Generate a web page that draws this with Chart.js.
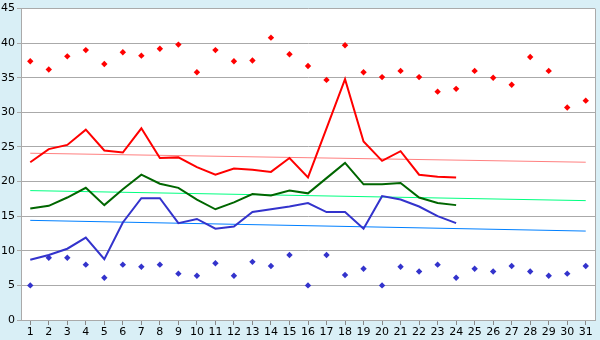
<!DOCTYPE html>
<html>
<head>
<meta charset="utf-8">
<script src="https://cdn.jsdelivr.net/npm/chart.js@4/dist/chart.umd.min.js"></script>
<style>
  html, body { margin: 0; padding: 0; background: #d9eff6; }
  #wrap { width: 600px; height: 340px; position: relative; }
</style>
</head>
<body>
<div id="wrap"><canvas id="c" width="600" height="340"></canvas></div>
<script>
// Days of the month
const days = Array.from({ length: 31 }, (_, i) => String(i + 1));

// Daily highs and lows (markers)
const highs = [37.4, 36.2, 38.1, 39.0, 37.0, 38.7, 38.2, 39.2, 39.8, 35.8,
               39.0, 37.4, 37.5, 40.8, 38.4, 36.7, 34.7, 39.7, 35.8, 35.1,
               36.0, 35.1, 33.0, 33.4, 36.0, 35.0, 34.0, 38.0, 36.0, 30.7, 31.7];
const lows  = [5.0, 9.0, 9.0, 8.0, 6.1, 8.0, 7.7, 8.0, 6.7, 6.4,
               8.2, 6.4, 8.4, 7.8, 9.4, 5.0, 9.4, 6.5, 7.4, 5.0,
               7.7, 7.0, 8.0, 6.1, 7.4, 7.0, 7.8, 7.0, 6.4, 6.7, 7.8];

// Daily average max / mean / min (lines, first 24 days)
const avgMax  = [22.8, 24.7, 25.3, 27.5, 24.5, 24.2, 27.7, 23.4, 23.5, 22.1,
                 21.0, 21.9, 21.7, 21.4, 23.4, 20.6, 27.7, 34.8, 25.8, 23.0,
                 24.4, 21.0, 20.7, 20.6];
const avgMean = [16.1, 16.5, 17.7, 19.1, 16.6, 18.9, 21.0, 19.7, 19.1, 17.4,
                 16.0, 17.0, 18.2, 18.0, 18.7, 18.3, 20.5, 22.7, 19.6, 19.6,
                 19.8, 17.7, 16.9, 16.6];
const avgMin  = [8.7, 9.4, 10.3, 11.9, 8.8, 14.1, 17.6, 17.6, 14.0, 14.6,
                 13.2, 13.5, 15.6, 16.0, 16.4, 16.9, 15.6, 15.6, 13.2, 17.9,
                 17.4, 16.4, 15.0, 14.0];

// Trend line end points (day 1 and day 31)
const trendMax  = [24.1, 22.8];
const trendMean = [18.7, 17.25];
const trendMin  = [14.4, 12.85];

const yTicks = [0, 5, 10, 15, 20, 25, 30, 35, 40, 45];

function ends(pair) {
  const arr = new Array(days.length).fill(null);
  arr[0] = pair[0];
  arr[days.length - 1] = pair[1];
  return arr;
}

const whiteArea = {
  id: 'whiteArea',
  beforeDraw(chart) {
    const { ctx, chartArea: a } = chart;
    ctx.save();
    ctx.fillStyle = '#ffffff';
    ctx.fillRect(a.left, a.top, a.right - a.left, a.bottom - a.top);
    ctx.strokeStyle = '#aaaaaa';
    ctx.lineWidth = 1;
    ctx.beginPath();
    ctx.moveTo(Math.round(a.right) + 0.5, a.top);
    ctx.lineTo(Math.round(a.right) + 0.5, a.bottom);
    ctx.stroke();
    ctx.restore();
  }
};

const font = { family: '"DejaVu Sans", Verdana, sans-serif', size: 11 };

new Chart(document.getElementById('c'), {
  type: 'line',
  data: {
    labels: days,
    datasets: [
      { data: avgMax, borderColor: '#ff0000', borderWidth: 2, pointRadius: 0, tension: 0, fill: false },
      { data: avgMean, borderColor: '#006600', borderWidth: 2, pointRadius: 0, tension: 0, fill: false },
      { data: avgMin, borderColor: '#3333cc', borderWidth: 2, pointRadius: 0, tension: 0, fill: false },
      { data: highs, showLine: false, pointStyle: 'rectRot', pointRadius: 3.2,
        backgroundColor: '#ff0000', borderColor: '#ff0000', borderWidth: 0 },
      { data: lows, showLine: false, pointStyle: 'rectRot', pointRadius: 3.2,
        backgroundColor: '#3333cc', borderColor: '#3333cc', borderWidth: 0 },
      { data: ends(trendMax), borderColor: '#ff8080', borderWidth: 1, pointRadius: 0, spanGaps: true },
      { data: ends(trendMean), borderColor: '#00ff80', borderWidth: 1, pointRadius: 0, spanGaps: true },
      { data: ends(trendMin), borderColor: '#0080ff', borderWidth: 1, pointRadius: 0, spanGaps: true }
    ]
  },
  options: {
    responsive: false,
    animation: false,
    events: [],
    layout: { padding: { top: 5, right: 5, left: 0, bottom: 0 } },
    plugins: { legend: { display: false }, tooltip: { enabled: false } },
    scales: {
      x: {
        offset: true,
        grid: { offset: false, drawOnChartArea: false, drawTicks: true, tickLength: 5, color: '#888888' },
        border: { color: '#aaaaaa' },
        ticks: { font: font, color: '#000000', padding: 1, maxRotation: 0, autoSkip: false },
        afterFit(s) { s.height = 20; }
      },
      y: {
        min: 0, max: 45,
        afterBuildTicks(s) { s.ticks = yTicks.map(v => ({ value: v })); },
        grid: { color: '#aaaaaa', drawTicks: true, tickLength: 4 },
        border: { color: '#aaaaaa' },
        ticks: { font: font, color: '#000000', padding: 2 },
        afterFit(s) { s.width = 21; }
      }
    }
  },
  plugins: [whiteArea]
});
</script>
</body>
</html>
